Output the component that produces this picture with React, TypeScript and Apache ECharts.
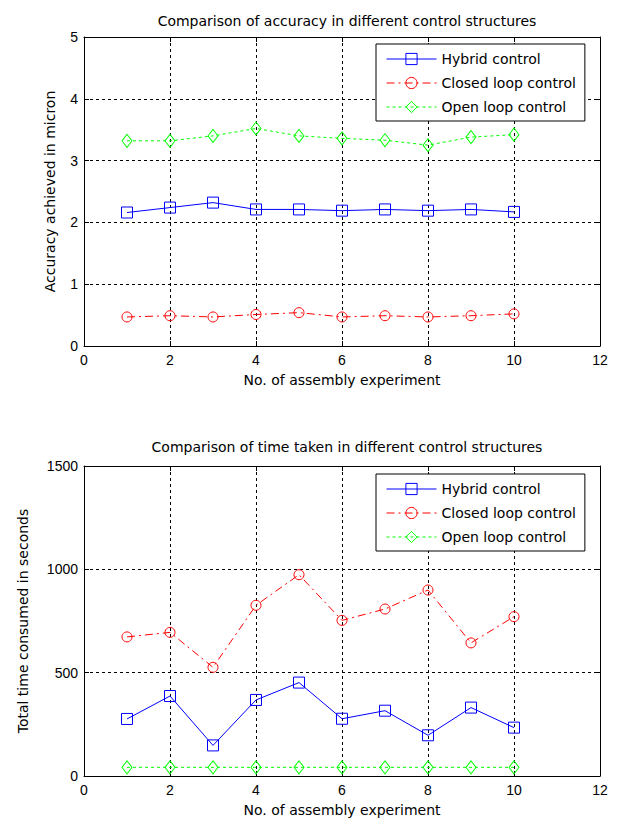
import React, { useEffect, useRef } from "react";
import * as echarts from "echarts";

// Assembly experiment number
const experiments = [1, 2, 3, 4, 5, 6, 7, 8, 9, 10];

// Accuracy achieved (micron)
const accHybrid = [2.16, 2.24, 2.32, 2.21, 2.21, 2.19, 2.21, 2.19, 2.21, 2.17];
const accClosed = [0.47, 0.49, 0.47, 0.51, 0.54, 0.47, 0.49, 0.47, 0.49, 0.52];
const accOpen = [3.32, 3.32, 3.4, 3.52, 3.4, 3.36, 3.33, 3.25, 3.38, 3.42];

// Total time consumed (seconds)
const timeHybrid = [276, 387, 148, 368, 452, 277, 316, 197, 331, 234];
const timeClosed = [673, 695, 526, 826, 974, 753, 808, 900, 644, 771];
const timeOpen = [42, 42, 42, 42, 42, 42, 42, 42, 42, 42];

const seriesNames = ["Hybrid control", "Closed loop control", "Open loop control"];
const titles = [
  "Comparison of accuracy in different control structures",
  "Comparison of time taken in different control structures",
];
const xName = "No. of assembly experiment";
const yNames = ["Accuracy achieved in micron", "Total time consumed in seconds"];

const TEXT_FONT = "DejaVu Sans, sans-serif";
const TICK_FONT = "Liberation Sans, Arial, sans-serif";
const BLUE = "#0000ff";
const RED = "#ff0000";
const GREEN = "#00ff00";

const pairs = (ys: number[]) => experiments.map((x, i) => [x, ys[i]]);

const grids = [
  { left: 84, right: 23, top: 37, height: 309 },
  { left: 84, right: 23, top: 466, height: 310 },
];

const nameStyle = { color: "#000", fontFamily: TEXT_FONT, fontSize: 14 };
const tickStyle = { color: "#000", fontFamily: TICK_FONT, fontSize: 14 };
const gridLine = { color: "#000", type: [3, 3], width: 1 };

function makeX(gridIndex: number, main: boolean) {
  return {
    type: "value",
    gridIndex,
    position: main ? "bottom" : "top",
    min: 0,
    max: 12,
    interval: 2,
    name: main ? xName : "",
    nameLocation: "middle",
    nameGap: 27,
    nameTextStyle: nameStyle,
    axisLine: { show: true, onZero: false, lineStyle: { color: "#000", width: 1 } },
    axisTick: { show: true, inside: true, length: 5, lineStyle: { color: "#000" } },
    axisLabel: { show: main, ...tickStyle, margin: 7, formatter: (v: number) => String(v) },
    splitLine: { show: main, lineStyle: gridLine },
  };
}

function makeY(gridIndex: number, main: boolean, max: number, interval: number, name: string, gap: number) {
  return {
    type: "value",
    gridIndex,
    position: main ? "left" : "right",
    min: 0,
    max,
    interval,
    name: main ? name : "",
    nameLocation: "middle",
    nameGap: gap,
    nameRotate: 90,
    nameTextStyle: nameStyle,
    axisLine: { show: true, onZero: false, lineStyle: { color: "#000", width: 1 } },
    axisTick: { show: true, inside: true, length: 5, lineStyle: { color: "#000" } },
    axisLabel: { show: main, ...tickStyle, margin: 6, formatter: (v: number) => String(v) },
    splitLine: { show: main, lineStyle: gridLine },
  };
}

function lineSeries(
  name: string,
  data: number[],
  axis: number,
  color: string,
  symbol: string,
  symbolSize: number | number[],
  dash: any
) {
  return {
    type: "line",
    name,
    xAxisIndex: axis,
    yAxisIndex: axis,
    data: pairs(data),
    symbol,
    symbolSize,
    showSymbol: true,
    color,
    lineStyle: { color, width: 1, type: dash },
    itemStyle: { color: "rgba(0,0,0,0)", borderColor: color, borderWidth: 1 },
    z: 3,
  };
}

function legendAt(top: number) {
  return {
    show: true,
    orient: "vertical",
    left: 376,
    top,
    backgroundColor: "#fff",
    borderColor: "#000",
    borderWidth: 1,
    padding: [8, 9, 7, 10],
    itemWidth: 50,
    itemHeight: 14,
    itemGap: 10,
    lineStyle: { width: 1 },
    itemStyle: { borderWidth: 1 },
    textStyle: { color: "#000", fontFamily: TEXT_FONT, fontSize: 14 },
    z: 10,
  };
}

export default function App() {
  const ref = useRef<HTMLDivElement>(null);

  useEffect(() => {
    if (!ref.current) return;
    const chart = echarts.init(ref.current, null, { renderer: "svg" });

    const dashDot = [8, 4, 2, 4];
    const dotted = [3, 3];

    const top = [
      lineSeries(seriesNames[0], accHybrid, 0, BLUE, "rect", 11, "solid"),
      lineSeries(seriesNames[1], accClosed, 0, RED, "circle", 10, dashDot),
      lineSeries(seriesNames[2], accOpen, 0, GREEN, "diamond", [10, 13], dotted),
    ];
    const bottom = [
      lineSeries(seriesNames[0], timeHybrid, 2, BLUE, "rect", 11, "solid"),
      lineSeries(seriesNames[1], timeClosed, 2, RED, "circle", 10, dashDot),
      lineSeries(seriesNames[2], timeOpen, 2, GREEN, "diamond", [10, 13], dotted),
    ];

    const titleStyle = { color: "#000", fontFamily: TEXT_FONT, fontSize: 14, fontWeight: "normal" };

    chart.setOption({
      animation: false,
      backgroundColor: "#fff",
      title: [
        { text: titles[0], left: 342, top: 9, textAlign: "center", textStyle: titleStyle },
        { text: titles[1], left: 342, top: 435, textAlign: "center", textStyle: titleStyle },
      ],
      legend: [
        { ...legendAt(44), data: [...seriesNames] },
        { ...legendAt(474), data: [...seriesNames] },
      ],
      grid: grids,
      xAxis: [makeX(0, true), makeX(0, false), makeX(1, true), makeX(1, false)],
      yAxis: [
        makeY(0, true, 5, 1, yNames[0], 27),
        makeY(0, false, 5, 1, "", 0),
        makeY(1, true, 1500, 500, yNames[1], 54),
        makeY(1, false, 1500, 500, "", 0),
      ],
      series: [...top, ...bottom],
    });

    return () => chart.dispose();
  }, []);

  return (
    <div
      ref={ref}
      style={{ position: "absolute", left: 0, top: 0, width: 623, height: 822, background: "#fff" }}
    />
  );
}
